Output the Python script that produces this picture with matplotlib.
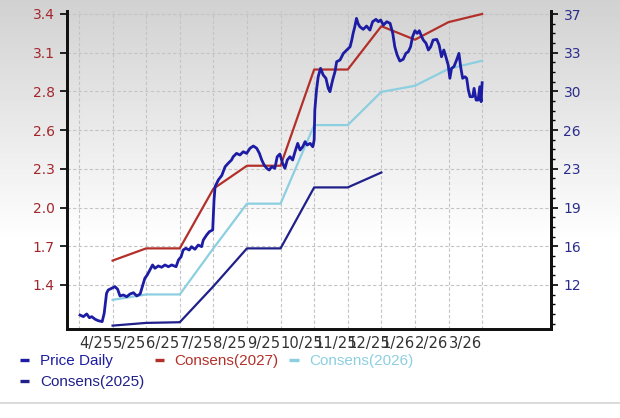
import numpy as np
import matplotlib
matplotlib.use("Agg")
import matplotlib.pyplot as plt
from matplotlib.lines import Line2D
from matplotlib.ticker import FixedLocator, AutoMinorLocator, FuncFormatter

# month labels, gridlines at month positions 0..12
month_labels = ["4/25", "5/25", "6/25", "7/25", "8/25", "9/25", "10/25",
                "11/25", "12/25", "1/26", "2/26", "3/26", ""]

# consensus estimates (left axis), one point per month
cons27_x = [1, 2, 3, 4, 5, 6, 7, 8, 9, 10, 11, 12]
cons27_y = [1.60, 1.69, 1.69, 2.13, 2.30, 2.30, 3.01, 3.01, 3.33, 3.23, 3.36, 3.42]
cons26_x = [1, 2, 3, 4, 5, 6, 7, 8, 9, 10, 11, 12]
cons26_y = [1.31, 1.35, 1.35, 1.69, 2.02, 2.02, 2.60, 2.60, 2.845, 2.89, 3.015, 3.075]
cons25_x = [1, 2, 3, 4, 5, 6, 7, 8, 9]
cons25_y = [1.12, 1.14, 1.145, 1.41, 1.69, 1.69, 2.14, 2.14, 2.25]

# daily price (right axis), x in months
price_x = [0.03, 0.13, 0.23, 0.31, 0.38, 0.48, 0.57, 0.69, 0.75, 0.82, 0.87, 0.97,
           1.07, 1.15, 1.22, 1.32, 1.42, 1.52, 1.62, 1.72, 1.82, 1.90, 1.96, 2.03,
           2.11, 2.19, 2.26, 2.36, 2.46, 2.56, 2.66, 2.76, 2.89, 2.96, 3.04, 3.10,
           3.18, 3.28, 3.35, 3.45, 3.55, 3.65, 3.70, 3.80, 3.88, 3.98, 4.02, 4.05,
           4.15, 4.25, 4.35, 4.44, 4.54, 4.59, 4.69, 4.79, 4.89, 4.99, 5.09, 5.19,
           5.29, 5.37, 5.44, 5.51, 5.59, 5.66, 5.74, 5.83, 5.90, 5.98, 6.06, 6.13,
           6.20, 6.28, 6.36, 6.43, 6.51, 6.58, 6.66, 6.73, 6.79, 6.88, 6.96, 7.00,
           7.02, 7.07, 7.12, 7.19, 7.27, 7.35, 7.42, 7.47, 7.55, 7.62, 7.67, 7.77,
           7.87, 7.97, 8.07, 8.12, 8.16, 8.21, 8.26, 8.31, 8.36, 8.46, 8.56, 8.66,
           8.74, 8.84, 8.91, 8.98, 9.06, 9.16, 9.26, 9.34, 9.40, 9.47, 9.55, 9.65,
           9.73, 9.80, 9.87, 9.93, 10.00, 10.07, 10.13, 10.20, 10.25, 10.33, 10.40,
           10.47, 10.54, 10.65, 10.72, 10.79, 10.86, 10.92, 10.99, 11.04, 11.09,
           11.16, 11.24, 11.31, 11.36, 11.42, 11.49, 11.54, 11.59, 11.64, 11.72,
           11.76, 11.82, 11.88, 11.93, 11.97, 12.0]
price_y = [9.22, 9.07, 9.32, 8.97, 9.07, 8.83, 8.70, 8.61, 9.38, 11.23, 11.53, 11.69,
           11.84, 11.60, 10.98, 11.07, 10.91, 11.16, 11.28, 10.98, 11.16, 11.99, 12.61, 12.91,
           13.38, 13.84, 13.53, 13.75, 13.63, 13.84, 13.68, 13.84, 13.68, 14.30, 14.60, 15.22,
           15.38, 15.22, 15.53, 15.29, 15.68, 15.53, 16.14, 16.61, 16.91, 17.07, 19.84, 21.06,
           21.70, 22.10, 22.91, 23.22, 23.53, 23.83, 24.14, 23.99, 24.29, 24.14, 24.61, 24.82,
           24.61, 24.14, 23.53, 23.07, 22.76, 22.60, 22.91, 22.76, 23.83, 24.08, 23.22, 22.76,
           23.53, 23.83, 23.53, 24.29, 25.06, 24.45, 24.75, 25.22, 24.91, 25.06, 24.75, 25.37,
           28.14, 29.99, 31.21, 31.99, 31.37, 31.07, 30.14, 29.83, 30.91, 31.68, 32.60, 32.76,
           33.37, 33.68, 33.98, 34.60, 35.22, 35.83, 36.60, 36.10, 35.83, 35.59, 35.89, 35.52,
           36.29, 36.51, 36.29, 36.45, 35.98, 36.29, 36.14, 35.22, 33.98, 33.22, 32.66, 32.82,
           33.37, 33.52, 33.98, 34.91, 35.46, 35.22, 35.46, 34.91, 34.60, 34.30, 33.68,
           33.98, 34.60, 34.66, 34.14, 33.06, 33.68, 33.06, 32.29, 31.07, 31.99,
           32.14, 32.76, 33.37, 32.14, 31.07, 31.21, 31.07, 29.99, 29.37, 29.37,
           30.14, 29.06, 29.06, 30.29, 28.91, 30.66]

left_ticks = np.linspace(1.42, 3.42, 8)
right_ticks = np.linspace(12, 37, 8)

c_price = "#1c1ca4"
c_27 = "#b3302a"
c_26 = "#8ccfe0"
c_25 = "#20208a"

plt.rcParams["font.family"] = ["DejaVu Sans"]

fig = plt.figure(figsize=(6.2, 4.18), dpi=100)

# background gradient
bg = fig.add_axes([0, 0, 1, 1], zorder=-10)
grad = np.clip(np.linspace(0, 1, 418) / 0.58, 0, 1)
grad = 0.82 + 0.18 * grad
bg.imshow(grad[:, None], cmap="gray", vmin=0, vmax=1, aspect="auto",
          extent=[0, 1, 0, 1], origin="upper")
bg.axhline(1 - 403 / 418, color="#d4d4d4", lw=1.2)
bg.set_xlim(0, 1)
bg.set_ylim(0, 1)
bg.axis("off")

ax = fig.add_axes([67 / 620, 1 - 329 / 418, (551 - 67) / 620, (329 - 11) / 418])
ax.patch.set_alpha(0)
ax2 = ax.twinx()

ax.plot(cons27_x, cons27_y, color=c_27, lw=1.6, label="Consens(2027)")
ax.plot(cons26_x, cons26_y, color=c_26, lw=1.6, label="Consens(2026)")
ax.plot(cons25_x, cons25_y, color=c_25, lw=1.6, label="Consens(2025)")
ax2.plot(price_x, price_y, color=c_price, lw=2.0, label="Price Daily")

ax.set_xlim(-0.357, 14.05)
ax.set_ylim(1.095, 3.442)
ax2.set_ylim(7.93, 37.28)

ax.yaxis.set_major_locator(FixedLocator(left_ticks))
ax.yaxis.set_major_formatter(FuncFormatter(lambda v, p: "%.1f" % v))
ax2.yaxis.set_major_locator(FixedLocator(right_ticks))
ax2.yaxis.set_major_formatter(FuncFormatter(lambda v, p: "%d" % round(v)))
ax2.yaxis.set_minor_locator(AutoMinorLocator(4))

ax.set_xticks(range(len(month_labels)))
ax.set_xticklabels(month_labels, ha="left")
ax.tick_params(axis="x", length=0, pad=5, labelsize=10.6, labelcolor="#333333")
ax.tick_params(axis="y", length=5, width=1.2, pad=4, labelsize=10, labelcolor="#a3262b",
               direction="out")
ax2.tick_params(axis="y", which="major", length=5, width=1.2, pad=4, labelsize=10,
                labelcolor="#2c2c8c", direction="out")
ax2.tick_params(axis="y", which="minor", length=3, width=1.0, direction="out")

ax.grid(True, color="#c4c4c4", ls=(0, (3, 2)), lw=0.8)
ax.set_axisbelow(True)

for a in (ax, ax2):
    a.spines["top"].set_visible(False)
    for s in ("left", "right", "bottom"):
        a.spines[s].set_linewidth(2.0)
        a.spines[s].set_color("#111111")

h27, l27 = ax.get_legend_handles_labels()
hp, lp = ax2.get_legend_handles_labels()
order = [hp[0], h27[2], h27[0], h27[1]]
labels = [lp[0], l27[2], l27[0], l27[1]]
handles = [Line2D([], [], color=h.get_color(), lw=2.4, solid_capstyle="butt") for h in order]
leg = fig.legend(handles, labels, loc="upper left", ncol=3,
                 bbox_to_anchor=(20 / 620, 1 - 354 / 418), frameon=False,
                 handlelength=0.6, handletextpad=0.7, columnspacing=0.7,
                 borderpad=0, borderaxespad=0, labelspacing=0.45,
                 prop={"family": "Liberation Sans", "size": 11},
                 labelcolor="linecolor")

fig.savefig("out.png", dpi=100)
